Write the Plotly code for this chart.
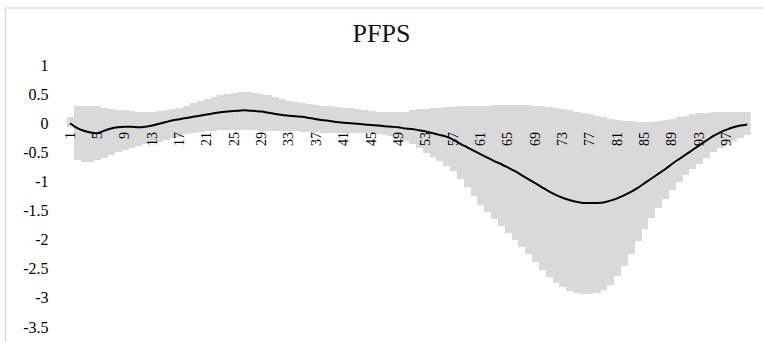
import plotly.graph_objects as go

W, H = 763, 342

# ---- data ----
categories = list(range(1, 101))

mean_values = [0.0, -0.08, -0.13, -0.16, -0.17, -0.13, -0.09, -0.07, -0.06, -0.06,
               -0.07, -0.06, -0.04, -0.01, 0.02, 0.05, 0.07, 0.09, 0.11, 0.13,
               0.15, 0.17, 0.19, 0.2, 0.21, 0.22, 0.22, 0.21, 0.2, 0.18,
               0.16, 0.14, 0.13, 0.12, 0.11, 0.09, 0.07, 0.05, 0.04, 0.02,
               0.01, 0.0, -0.01, -0.02, -0.03, -0.04, -0.05, -0.06, -0.07, -0.09,
               -0.1, -0.12, -0.14, -0.17, -0.2, -0.23, -0.28, -0.35, -0.41, -0.47,
               -0.53, -0.59, -0.65, -0.7, -0.76, -0.82, -0.89, -0.96, -1.03, -1.1,
               -1.17, -1.23, -1.28, -1.32, -1.35, -1.37, -1.37, -1.37, -1.36, -1.33,
               -1.29, -1.24, -1.18, -1.11, -1.03, -0.95, -0.87, -0.79, -0.7, -0.62,
               -0.54, -0.46, -0.38, -0.3, -0.22, -0.16, -0.11, -0.07, -0.04, -0.02]

upper_values = [0.1, 0.29, 0.29, 0.29, 0.29, 0.27, 0.25, 0.23, 0.22, 0.21,
                0.2, 0.2, 0.2, 0.21, 0.23, 0.25, 0.27, 0.3, 0.34, 0.38,
                0.42, 0.45, 0.48, 0.51, 0.52, 0.53, 0.53, 0.52, 0.5, 0.48,
                0.45, 0.42, 0.39, 0.37, 0.35, 0.33, 0.31, 0.3, 0.29, 0.28,
                0.27, 0.26, 0.25, 0.23, 0.21, 0.2, 0.19, 0.19, 0.19, 0.2,
                0.22, 0.24, 0.25, 0.26, 0.27, 0.28, 0.28, 0.29, 0.29, 0.3,
                0.3, 0.3, 0.31, 0.31, 0.31, 0.31, 0.31, 0.31, 0.3, 0.29,
                0.28, 0.26, 0.24, 0.22, 0.2, 0.18, 0.16, 0.13, 0.1, 0.08,
                0.06, 0.04, 0.03, 0.02, 0.02, 0.02, 0.03, 0.05, 0.08, 0.1,
                0.13, 0.15, 0.17, 0.18, 0.19, 0.19, 0.19, 0.19, 0.19, 0.19]

lower_values = [-0.07, -0.64, -0.66, -0.66, -0.64, -0.6, -0.55, -0.5, -0.46, -0.42,
                -0.39, -0.36, -0.34, -0.32, -0.29, -0.26, -0.23, -0.19, -0.17, -0.15,
                -0.14, -0.13, -0.12, -0.12, -0.12, -0.12, -0.12, -0.12, -0.13, -0.13,
                -0.13, -0.14, -0.14, -0.14, -0.15, -0.15, -0.15, -0.16, -0.16, -0.16,
                -0.16, -0.16, -0.17, -0.17, -0.17, -0.18, -0.2, -0.22, -0.27, -0.31,
                -0.36, -0.43, -0.51, -0.58, -0.65, -0.73, -0.82, -0.95, -1.1, -1.25,
                -1.4, -1.52, -1.64, -1.76, -1.88, -2.0, -2.12, -2.24, -2.38, -2.52,
                -2.64, -2.74, -2.82, -2.88, -2.92, -2.93, -2.93, -2.91, -2.86, -2.77,
                -2.63, -2.45, -2.24, -2.02, -1.82, -1.63, -1.45, -1.3, -1.15, -1.01,
                -0.89, -0.79, -0.7, -0.6, -0.5, -0.43, -0.36, -0.3, -0.26, -0.21]

x_tick_values = [1, 5, 9, 13, 17, 21, 25, 29, 33, 37, 41, 45, 49, 53, 57, 61, 65, 69, 73, 77, 81, 85, 89, 93, 97]
x_tick_labels = ["1", "5", "9", "13", "17", "21", "25", "29", "33", "37", "41", "45", "49",
                 "53", "57", "61", "65", "69", "73", "77", "81", "85", "89", "93", "97"]
y_tick_values = [1, 0.5, 0, -0.5, -1, -1.5, -2, -2.5, -3, -3.5]
y_tick_labels = ["1", "0.5", "0", "-0.5", "-1", "-1.5", "-2", "-2.5", "-3", "-3.5"]

band_height = [u - l for u, l in zip(upper_values, lower_values)]

fig = go.Figure()
fig.add_trace(go.Bar(
    x=categories, y=band_height, base=lower_values,
    marker=dict(color="#d9d9d9", line=dict(width=0)),
    hoverinfo="skip", showlegend=False,
))
fig.add_trace(go.Scatter(
    x=categories, y=mean_values, mode="lines",
    line=dict(color="#000000", width=2, shape="spline", smoothing=0.6),
    showlegend=False,
))

# pixel helpers for layout placement
def px_x(p):
    return p / W

def px_y(p):
    return 1 - p / H

y_top_px, y_bot_px = 65, 327
zero_px = y_top_px + (1 - 0) / 4.5 * (y_bot_px - y_top_px)

fig.update_layout(
    width=W, height=H,
    autosize=False,
    margin=dict(l=0, r=0, t=0, b=0, pad=0, autoexpand=False),
    paper_bgcolor="white", plot_bgcolor="white",
    bargap=0,
    font=dict(family="Liberation Serif, Times New Roman, serif", color="#000000"),
    title=dict(text="PFPS", x=0.5, xanchor="center", y=px_y(33), yanchor="middle",
               automargin=False,
               font=dict(size=26, family="Liberation Serif, Times New Roman, serif", color="#111111")),
    xaxis=dict(
        range=[0.5, 100.5], domain=[px_x(66.6), px_x(750.6)],
        anchor="free", position=px_y(zero_px), automargin=False,
        tickmode="array", tickvals=x_tick_values, ticktext=x_tick_labels,
        tickangle=-90, tickfont=dict(size=14),
        ticks="", ticklabelstandoff=5,
        showgrid=False, zeroline=False, showline=False,
    ),
    yaxis=dict(
        range=[-3.5, 1], domain=[px_y(y_bot_px), px_y(y_top_px)], automargin=False,
        tickmode="array", tickvals=y_tick_values, ticktext=y_tick_labels,
        tickfont=dict(size=16), ticks="", ticklabelstandoff=17,
        showgrid=False, zeroline=False, showline=False,
    ),
    shapes=[
        dict(type="line", xref="paper", yref="paper", x0=px_x(5.5), x1=px_x(5.5),
             y0=px_y(8), y1=px_y(342), line=dict(color="#d9d9d9", width=1.5)),
        dict(type="line", xref="paper", yref="paper", x0=px_x(5), x1=px_x(763),
             y0=px_y(8), y1=px_y(8), line=dict(color="#d9d9d9", width=1.5)),
    ],
)

fig.write_html("out.html")
